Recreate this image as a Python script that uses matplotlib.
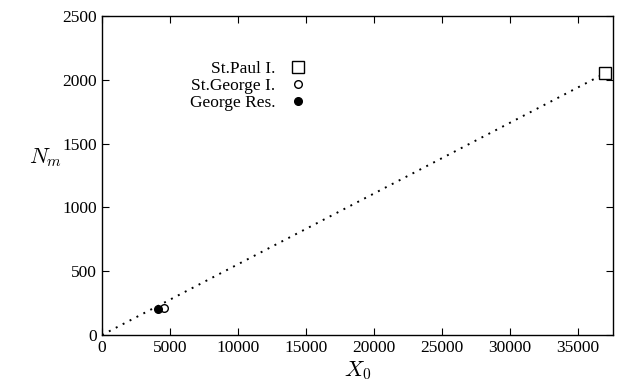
import numpy as np
import matplotlib.pyplot as plt

plt.rcParams['font.family'] = ['Liberation Serif', 'DejaVu Serif']
plt.rcParams['mathtext.fontset'] = 'cm'

# data
paul_x = [37000]
paul_y = [2050]
george_x = [4550]
george_y = [215]
res_x = [4150]
res_y = [205]

# fitted line through origin
fit_x = np.array([0, 37000])
fit_y = fit_x * (2050 / 37000)

fig = plt.figure(figsize=(6.18, 3.81), dpi=100)
ax = fig.add_axes([102 / 618, 46 / 381, 511 / 618, 319 / 381])

ax.plot(fit_x, fit_y, linestyle=(0, (1, 3)), color='black', linewidth=1.4)
ax.plot(paul_x, paul_y, 's', markersize=9, markerfacecolor='white',
        markeredgecolor='black', markeredgewidth=1.0, label='St.Paul I.', clip_on=False)
ax.plot(george_x, george_y, 'o', markersize=5.5, markerfacecolor='white',
        markeredgecolor='black', markeredgewidth=1.0, label='St.George I.')
ax.plot(res_x, res_y, 'o', markersize=5.5, color='black', label='George Res.')

ax.set_xlim(0, 37600)
ax.set_ylim(0, 2500)
ax.set_xticks(range(0, 35001, 5000))
ax.set_yticks(range(0, 2501, 500))
ax.tick_params(direction='in', top=True, right=True, labelsize=12.5, length=5)
for s in ax.spines.values():
    s.set_linewidth(1.0)

ax.set_xlabel('$X_0$', fontsize=16)
ax.xaxis.set_label_coords(0.5, -0.075)
ax.set_ylabel('$N_m$', fontsize=16, rotation=0)
ax.yaxis.set_label_coords(-0.11, 0.52)

leg = ax.legend(loc='upper left', bbox_to_anchor=(0.158, 0.88), frameon=False,
                markerfirst=False, fontsize=12.5, handletextpad=0.8,
                labelspacing=0.05, handlelength=1.0, borderaxespad=0)
for t in leg.get_texts():
    t.set_ha('right')
leg._legend_box.align = 'right'

fig.savefig('out.png', dpi=100)
